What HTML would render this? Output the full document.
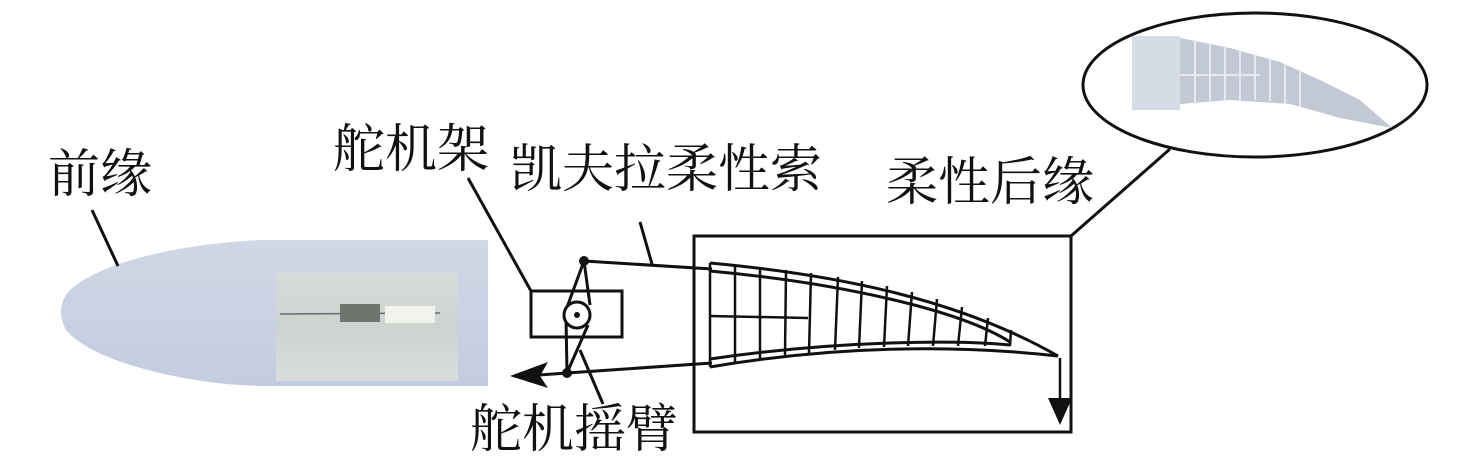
<!DOCTYPE html>
<html><head><meta charset="utf-8"><style>
body{margin:0;background:#fff}
svg{display:block}
text{font-family:"Liberation Serif","Noto Serif CJK SC",serif;font-size:52px;fill:#111}
</style></head><body>
<svg width="1476" height="469" viewBox="0 0 1476 469">
<defs>
<linearGradient id="g1" x1="0" y1="0" x2="0" y2="1"><stop offset="0" stop-color="#d0d7e6"/><stop offset="1" stop-color="#c3cce0"/></linearGradient>
<linearGradient id="g2" x1="0" y1="0" x2="0" y2="1"><stop offset="0" stop-color="#d8dcd8"/><stop offset=".5" stop-color="#cdd3cf"/><stop offset="1" stop-color="#d9dddc"/></linearGradient>
</defs>
<path d="M260,240 L488,240 L488,386 L260,386 C180,384 90,360 66,330 C58,315 60,300 70,290 C100,262 180,244 260,240 Z" fill="url(#g1)"/>
<rect x="276" y="273" width="182" height="108" fill="url(#g2)"/>
<line x1="280" y1="314" x2="440" y2="313" stroke="#667" stroke-width="1.5"/>
<rect x="340" y="304" width="40" height="18" fill="#6f756e"/>
<rect x="385" y="306" width="50" height="17" fill="#f2f2ee"/>
<text x="48" y="192">前缘</text>
<text x="333" y="167">舵机架</text>
<text x="510" y="187">凯夫拉柔性索</text>
<text x="886" y="200">柔性后缘</text>
<text x="470" y="447">舵机摇臂</text>
<g stroke="#111" stroke-width="3" fill="none">
<line x1="92" y1="210" x2="118" y2="266"/>
<line x1="468" y1="178" x2="531" y2="291"/>
<line x1="640" y1="222" x2="652" y2="264"/>
<polyline points="1071,236 1170,149"/>
<line x1="580" y1="350" x2="603" y2="404"/>
<rect x="694" y="236" width="377" height="196"/>
<rect x="531" y="291" width="91" height="46" fill="#fff"/>
<line x1="584" y1="261" x2="712" y2="269"/>
<line x1="567" y1="373" x2="712" y2="363"/>
<line x1="567" y1="373" x2="525" y2="376"/>
<path d="M584,261 L566,310 M584,261 L590,305 M566,318 L567,373 M588,325 L567,373"/>
<circle cx="577" cy="315" r="13" fill="#fff"/>
<path d="M710,263 C840,275 960,300 1058,356"/>
<path d="M710,271 C840,283 960,310 1010,342"/>
<path d="M710,367 C840,345 960,345 1058,356"/>
<path d="M710,359 C840,340 960,340 1010,345"/>
</g>
<circle cx="577" cy="315" r="3" fill="#111"/>
<circle cx="584" cy="261" r="5" fill="#111"/><circle cx="567" cy="373" r="5" fill="#111"/>
<g stroke="#111" stroke-width="2.5">
<line x1="710" y1="263" x2="710" y2="367"/>
<line x1="735" y1="265" x2="735" y2="363"/>
<line x1="760" y1="267" x2="760" y2="359"/>
<line x1="786" y1="270" x2="785" y2="356"/>
<line x1="811" y1="273" x2="809" y2="353"/>
<line x1="838" y1="277" x2="835" y2="350"/>
<line x1="862" y1="281" x2="859" y2="348"/>
<line x1="887" y1="286" x2="884" y2="347"/>
<line x1="912" y1="292" x2="908" y2="346"/>
<line x1="937" y1="299" x2="933" y2="346"/>
<line x1="962" y1="307" x2="958" y2="346"/>
<line x1="988" y1="318" x2="985" y2="346"/>
<line x1="1011" y1="330" x2="1010" y2="346"/>
<line x1="710" y1="316" x2="808" y2="318"/>
<line x1="1060" y1="358" x2="1060" y2="405"/>
</g>
<polygon points="1048,398 1072,398 1060,425" fill="#111"/>
<polygon points="510,376 548,362 540,376 548,388" fill="#111"/>
<ellipse cx="1255" cy="85" rx="172" ry="72" fill="none" stroke="#111" stroke-width="3"/>
<path d="M1132,36 L1180,38 L1230,48 L1280,62 L1320,80 L1360,100 L1392,128 L1340,118 L1290,104 L1230,100 L1180,104 L1132,110 Z" fill="#c2c9d4"/>
<rect x="1132" y="36" width="48" height="74" fill="#d6dce6"/>
<g stroke="#e6eaf0" stroke-width="2">
<line x1="1195" y1="40" x2="1195" y2="104"/><line x1="1210" y1="43" x2="1210" y2="102"/>
<line x1="1225" y1="46" x2="1225" y2="101"/><line x1="1240" y1="50" x2="1240" y2="100"/>
<line x1="1255" y1="54" x2="1255" y2="100"/><line x1="1270" y1="58" x2="1270" y2="101"/>
<line x1="1285" y1="64" x2="1285" y2="104"/><line x1="1300" y1="70" x2="1300" y2="107"/>
<line x1="1180" y1="75" x2="1260" y2="75"/>
</g>
</svg>
</body></html>
